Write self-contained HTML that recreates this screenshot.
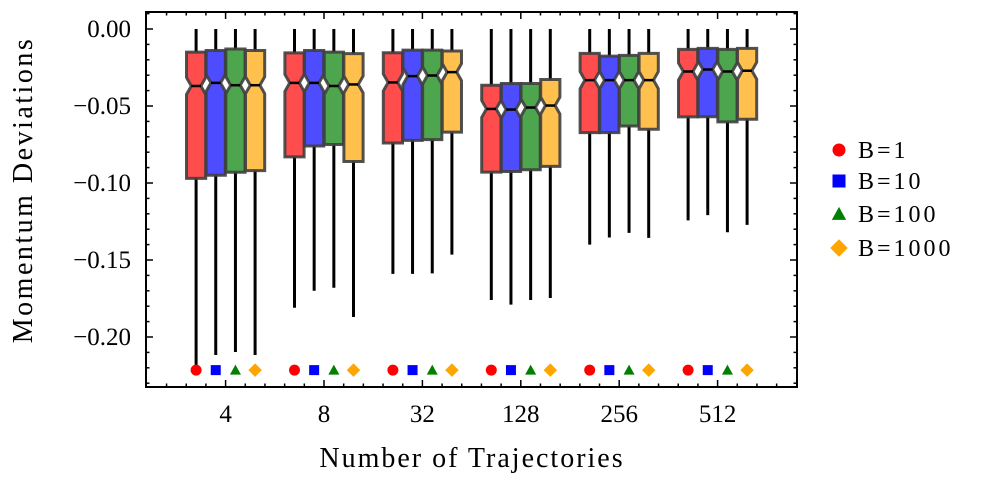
<!DOCTYPE html>
<html><head><meta charset="utf-8"><style>
body{margin:0;background:#fff;}
svg text{font-family:"Liberation Serif",serif;fill:#000;}
</style></head><body>
<svg id="chart" width="996" height="485" viewBox="0 0 996 485" xmlns="http://www.w3.org/2000/svg"></svg>
<script>
const categories=["4","8","32","128","256","512"];
const seriesNames=["B=1","B=10","B=100","B=1000"];
const whiskerHigh=[[0,0,0,0],[0,0,0,0],[0,0,0,0],[0,0,0,0],[0,0,0,0],[0,0,0,0]];
const q3=[[-0.015,-0.014,-0.013,-0.014],[-0.0155,-0.014,-0.015,-0.016],[-0.0154,-0.0137,-0.0137,-0.0143],[-0.0365,-0.0354,-0.0354,-0.0328],[-0.0158,-0.0176,-0.0171,-0.0158],[-0.0132,-0.0126,-0.0132,-0.0126]];
const medians=[[-0.037,-0.035,-0.0365,-0.0365],[-0.035,-0.035,-0.037,-0.036],[-0.0347,-0.0306,-0.0302,-0.028],[-0.0519,-0.0523,-0.051,-0.0497],[-0.0332,-0.0332,-0.0332,-0.0332],[-0.0276,-0.0263,-0.0276,-0.0271]];
const q1=[[-0.097,-0.095,-0.093,-0.092],[-0.083,-0.076,-0.075,-0.086],[-0.074,-0.0723,-0.0718,-0.067],[-0.0929,-0.0925,-0.0914,-0.0892],[-0.0673,-0.0673,-0.063,-0.0651],[-0.0571,-0.057,-0.0603,-0.0586]];
const whiskerLow=[[-0.22,-0.2117,-0.2097,-0.2117],[-0.181,-0.170,-0.168,-0.187],[-0.159,-0.159,-0.1587,-0.1465],[-0.176,-0.179,-0.176,-0.1747],[-0.140,-0.1354,-0.1324,-0.1356],[-0.1243,-0.1209,-0.132,-0.1272]];
const markerValue=-0.2215;
const yMajorTicks=[0,-0.05,-0.10,-0.15,-0.20];
const yTickLabels=["0.00","\u22120.05","\u22120.10","\u22120.15","\u22120.20"];

const svg=document.getElementById('chart');
const NS="http://www.w3.org/2000/svg";
const L=146,R=797,T=12,B=387;
function y(v){return 29-v*1540;}
function xc(i){return 225.6+98.4*i;}
const off=[-29.5,-9.85,9.85,29.5];
const fills=["#ff4d4d","#4d4dff","#4da64d","#ffc04d"];
const mcols=["#ff0000","#0000ff","#008000","#ffa500"];
function mk(tag,attrs,parent){const e=document.createElementNS(NS,tag);for(const k in attrs)e.setAttribute(k,attrs[k]);(parent||svg).appendChild(e);return e;}
function marker(shape,cx,cy,s,col,parent){
  if(shape===0)return mk('circle',{cx:cx,cy:cy,r:s,fill:col},parent);
  if(shape===1)return mk('rect',{x:cx-s,y:cy-s,width:2*s,height:2*s,fill:col},parent);
  if(shape===2)return mk('polygon',{points:`${cx},${cy-s*1.1} ${cx+s*1.1},${cy+s*0.9} ${cx-s*1.1},${cy+s*0.9}`,fill:col},parent);
  return mk('polygon',{points:`${cx},${cy-s*1.35} ${cx+s*1.35},${cy} ${cx},${cy+s*1.35} ${cx-s*1.35},${cy}`,fill:col},parent);
}
const hw=9.6,nh=0.0055;
for(let g=0;g<categories.length;g++){
  const grp=mk('g',{});
  
  
  for(let s=0;s<4;s++){
    const cx=xc(g)+off[s];
    const w=mk('line',{x1:cx,x2:cx,y1:y(whiskerHigh[g][s]),y2:y(whiskerLow[g][s]),stroke:'#000','stroke-width':3},grp);
    
    
    const t=y(q3[g][s]),b=y(q1[g][s]),m=y(medians[g][s]);
    const nt=Math.max(y(medians[g][s]+nh),t),nb=Math.min(y(medians[g][s]-nh),b);
    const p=`M${cx-hw},${t} L${cx+hw},${t} L${cx+hw},${nt} L${cx+hw/2},${m} L${cx+hw},${nb} L${cx+hw},${b} L${cx-hw},${b} L${cx-hw},${nb} L${cx-hw/2},${m} L${cx-hw},${nt} Z`;
    const bx=mk('path',{d:p,fill:fills[s],stroke:'#3f3f3f','stroke-width':3,'stroke-opacity':0.9,'stroke-linejoin':'miter'},grp);
    
    
    const md=mk('line',{x1:cx-hw/2,x2:cx+hw/2,y1:m,y2:m,stroke:'#000','stroke-width':2.5},grp);
    
    
    const mm=marker(s,cx,y(markerValue),s===0?5.5:5,mcols[s],grp);
    
    
  }
}
const fr=mk('rect',{x:L,y:T,width:R-L,height:B-T,fill:'none',stroke:'#000','stroke-width':2});


for(let k=-23;k<=1;k++){
  const v=k/100,yy=y(v),major=(k%5===0);const len=major?7:3.5;
  mk('line',{x1:L,x2:L+len,y1:yy,y2:yy,stroke:'#000','stroke-width':1.5});
  mk('line',{x1:R,x2:R-len,y1:yy,y2:yy,stroke:'#000','stroke-width':1.5});
}
yMajorTicks.forEach((v,i)=>{
  const t=mk('text',{x:L-15,y:y(v)+8,'text-anchor':'end','font-size':25});
  t.textContent=yTickLabels[i];
  
  
});
for(let k=-4;k<=29;k++){
  const xx=225.6+19.68*k;if(xx<=L+1||xx>=R-1)continue;
  const major=(k%5===0);const len=major?7:3.5;
  mk('line',{x1:xx,x2:xx,y1:B,y2:B-len,stroke:'#000','stroke-width':1.5});
  mk('line',{x1:xx,x2:xx,y1:T,y2:T+len,stroke:'#000','stroke-width':1.5});
}
categories.forEach((c,i)=>{
  const t=mk('text',{x:xc(i),y:422,'text-anchor':'middle','font-size':25});
  t.textContent=c;
  
  
});
const xt=mk('text',{x:472,y:467,'text-anchor':'middle','font-size':28,'letter-spacing':2});xt.textContent='Number of Trajectories';


const yt=mk('text',{x:0,y:0,'text-anchor':'middle','font-size':28,'letter-spacing':2.5,transform:'translate(32,190) rotate(-90)'});yt.textContent='Momentum Deviations';


const legY=[150,181,214,248];
seriesNames.forEach((n,i)=>{
  const g=mk('g',{});
  
  
  marker(i,839,legY[i],6.5,mcols[i],g);
  const t=mk('text',{x:858,y:legY[i]+8,'font-size':24,'letter-spacing':3},g);t.textContent=n;
});
</script>
</body></html>
